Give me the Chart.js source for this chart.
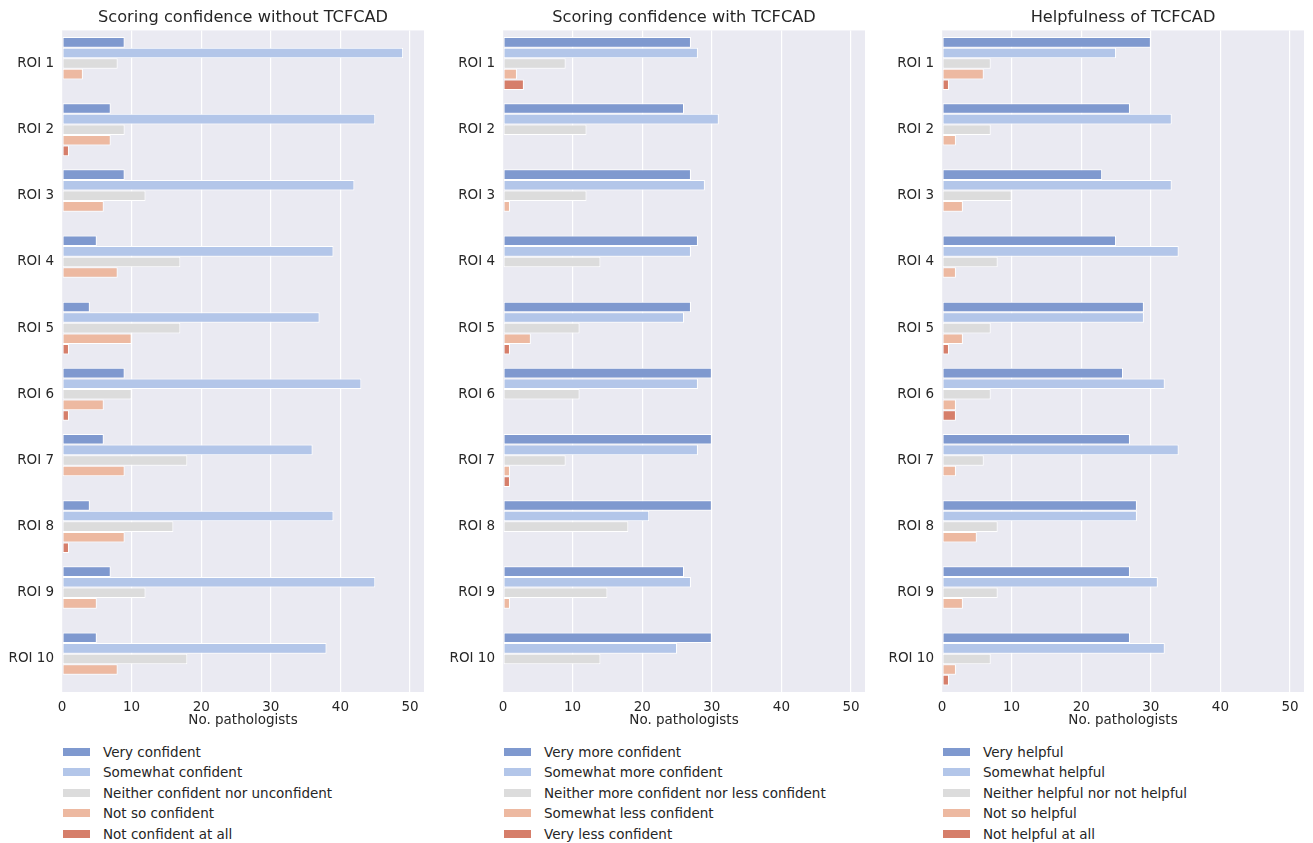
<!DOCTYPE html>
<html>
<head>
<meta charset="utf-8">
<script src="https://cdn.jsdelivr.net/npm/chart.js@4.4.0/dist/chart.umd.min.js"></script>
<style>
  body { margin: 0; background: #fff; font-family: "DejaVu Sans", sans-serif; }
  .panel { position: absolute; top: 0; }
  .legend { position: absolute; top: 742px; font-size: 13.5px; color: #262626; }
  .legend div { height: 20.4px; line-height: 20.4px; white-space: nowrap; }
  .legend span.sw { display: inline-block; width: 27px; height: 8px; margin-right: 13px; vertical-align: middle; position: relative; top: -1px; }
</style>
</head>
<body>
<div class="panel" style="left:0px;width:440px;height:729px"><canvas id="c1"></canvas></div>
<div class="panel" style="left:441px;width:440px;height:729px"><canvas id="c2"></canvas></div>
<div class="panel" style="left:880px;width:433px;height:729px"><canvas id="c3"></canvas></div>
<div class="legend" id="lg1" style="left:63px"></div>
<div class="legend" id="lg2" style="left:504px"></div>
<div class="legend" id="lg3" style="left:943px"></div>
<script>
// categories
const rois = ['ROI 1', 'ROI 2', 'ROI 3', 'ROI 4', 'ROI 5', 'ROI 6', 'ROI 7', 'ROI 8', 'ROI 9', 'ROI 10'];
const xTicks = [0, 10, 20, 30, 40, 50];
const palette = ['#7f99cf', '#b3c6e9', '#dcdcdc', '#edb9a1', '#d67e6a'];

// Scoring confidence without TCFCAD
const withoutLabels = ['Very confident', 'Somewhat confident', 'Neither confident nor unconfident', 'Not so confident', 'Not confident at all'];
const withoutVery     = [9, 7, 9, 5, 4, 9, 6, 4, 7, 5];
const withoutSomewhat = [49, 45, 42, 39, 37, 43, 36, 39, 45, 38];
const withoutNeither  = [8, 9, 12, 17, 17, 10, 18, 16, 12, 18];
const withoutNotSo    = [3, 7, 6, 8, 10, 6, 9, 9, 5, 8];
const withoutNotAll   = [0, 1, 0, 0, 1, 1, 0, 1, 0, 0];

// Scoring confidence with TCFCAD
const withLabels = ['Very more confident', 'Somewhat more confident', 'Neither more confident nor less confident', 'Somewhat less confident', 'Very less confident'];
const withVery       = [27, 26, 27, 28, 27, 30, 30, 30, 26, 30];
const withSomewhat   = [28, 31, 29, 27, 26, 28, 28, 21, 27, 25];
const withNeither    = [9, 12, 12, 14, 11, 11, 9, 18, 15, 14];
const withLess       = [2, 0, 1, 0, 4, 0, 1, 0, 1, 0];
const withVeryLess   = [3, 0, 0, 0, 1, 0, 1, 0, 0, 0];

// Helpfulness of TCFCAD
const helpLabels = ['Very helpful', 'Somewhat helpful', 'Neither helpful nor not helpful', 'Not so helpful', 'Not helpful at all'];
const helpVery     = [30, 27, 23, 25, 29, 26, 27, 28, 27, 27];
const helpSomewhat = [25, 33, 33, 34, 29, 32, 34, 28, 31, 32];
const helpNeither  = [7, 7, 10, 8, 7, 7, 6, 8, 8, 7];
const helpNotSo    = [6, 2, 3, 2, 3, 2, 2, 5, 3, 2];
const helpNotAll   = [1, 0, 0, 0, 1, 2, 0, 0, 0, 1];

// fill plot area like seaborn darkgrid
const bgPlugin = {
    id: 'plotBg',
    beforeDraw(chart) {
        const a = chart.chartArea;
        const ctx = chart.ctx;
        ctx.save();
        ctx.fillStyle = '#eaeaf2';
        ctx.fillRect(a.left, a.top, a.right - a.left, a.bottom - a.top);
        ctx.restore();
    }
};

function makeChart(id, title, labels, series, padRight) {
    const ctx = document.getElementById(id).getContext('2d');
    return new Chart(ctx, {
        type: 'bar',
        data: {
            labels: rois,
            datasets: series.map((s, i) => ({
                label: labels[i],
                data: s,
                backgroundColor: palette[i],
                borderColor: '#ffffff',
                borderWidth: 1,
                borderSkipped: false,
                categoryPercentage: 0.8,
                barPercentage: 1.0
            }))
        },
        options: {
            indexAxis: 'y',
            responsive: true,
            maintainAspectRatio: false,
            animation: false,
            layout: { padding: { top: 0, right: padRight, bottom: 0, left: 0 } },
            plugins: {
                legend: { display: false },
                tooltip: { enabled: false },
                title: {
                    display: true,
                    fullSize: false,
                    text: title,
                    color: '#262626',
                    font: { family: 'DejaVu Sans', size: 16.2, weight: 'normal' },
                    padding: { top: 8, bottom: 3 }
                }
            },
            scales: {
                x: {
                    min: 0,
                    max: 52,
                    afterBuildTicks: axis => { axis.ticks = xTicks.map(v => ({ value: v })); },
                    grid: { color: '#ffffff', lineWidth: 1.2, drawTicks: false },
                    border: { display: false },
                    ticks: { color: '#262626', padding: 7.5, font: { family: 'DejaVu Sans', size: 13.5 } },
                    title: {
                        display: true,
                        text: 'No. pathologists',
                        color: '#262626',
                        padding: { top: -10.4, bottom: 0 },
                        font: { family: 'DejaVu Sans', size: 13.5 }
                    }
                },
                y: {
                    afterFit: axis => { axis.width = 62; },
                    grid: { display: false, drawTicks: false },
                    border: { display: false },
                    ticks: { color: '#262626', padding: 8, font: { family: 'DejaVu Sans', size: 13.5 } }
                }
            }
        },
        plugins: [bgPlugin]
    });
}

function makeLegend(id, labels) {
    const el = document.getElementById(id);
    labels.forEach((t, i) => {
        const row = document.createElement('div');
        const sw = document.createElement('span');
        sw.className = 'sw';
        sw.style.background = palette[i];
        row.appendChild(sw);
        row.appendChild(document.createTextNode(t));
        el.appendChild(row);
    });
}

makeChart('c1', 'Scoring confidence without TCFCAD', withoutLabels,
    [withoutVery, withoutSomewhat, withoutNeither, withoutNotSo, withoutNotAll], 16);
makeChart('c2', 'Scoring confidence with TCFCAD', withLabels,
    [withVery, withSomewhat, withNeither, withLess, withVeryLess], 16);
makeChart('c3', 'Helpfulness of TCFCAD', helpLabels,
    [helpVery, helpSomewhat, helpNeither, helpNotSo, helpNotAll], 9);

makeLegend('lg1', withoutLabels);
makeLegend('lg2', withLabels);
makeLegend('lg3', helpLabels);
</script>
</body>
</html>
